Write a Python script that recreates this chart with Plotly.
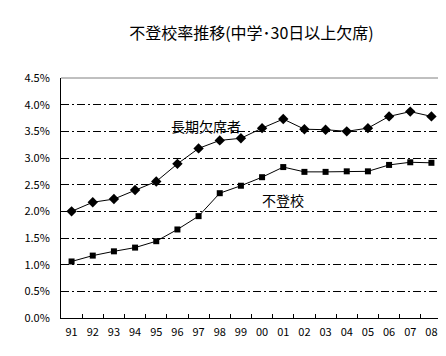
import plotly.graph_objects as go

years = ["91", "92", "93", "94", "95", "96", "97", "98", "99", "00",
         "01", "02", "03", "04", "05", "06", "07", "08"]
long_absence = [2.00, 2.17, 2.23, 2.40, 2.56, 2.89, 3.18, 3.33, 3.37, 3.56,
                3.73, 3.54, 3.53, 3.50, 3.56, 3.78, 3.87, 3.78]
futoko = [1.06, 1.17, 1.25, 1.32, 1.44, 1.66, 1.91, 2.34, 2.48, 2.64,
          2.83, 2.74, 2.74, 2.75, 2.75, 2.87, 2.92, 2.91]
y_ticks = [0.0, 0.5, 1.0, 1.5, 2.0, 2.5, 3.0, 3.5, 4.0, 4.5]
y_tick_text = [f"{v:.1f}%" for v in y_ticks]

font_family = "Noto Sans CJK JP, DejaVu Sans, sans-serif"

fig = go.Figure()
fig.add_trace(go.Scatter(
    x=years, y=long_absence, mode="lines+markers", name="長期欠席者",
    line=dict(color="black", width=1),
    marker=dict(symbol="diamond", size=8, color="black"),
))
fig.add_trace(go.Scatter(
    x=years, y=futoko, mode="lines+markers", name="不登校",
    line=dict(color="black", width=1),
    marker=dict(symbol="square", size=6, color="black"),
))

fig.add_annotation(x=4.6, y=3.60, xref="x", yref="y", text="長期欠席者",
                   showarrow=False, xanchor="left", yanchor="middle",
                   font=dict(size=14, color="black", family=font_family))
fig.add_annotation(x=8.9, y=2.21, xref="x", yref="y", text="不登校",
                   showarrow=False, xanchor="left", yanchor="middle",
                   font=dict(size=14, color="black", family=font_family))

# outer frame bottom line
fig.add_shape(type="line", xref="paper", yref="paper", x0=-0.2, x1=1.2,
              y0=-0.185, y1=-0.185, line=dict(color="#c0c0c0", width=2))

fig.update_layout(
    width=446, height=356,
    margin=dict(l=53, r=12, t=70, b=46),
    paper_bgcolor="white", plot_bgcolor="white",
    showlegend=False,
    title=dict(text="不登校率推移(中学･30日以上欠席)", x=0.5, xref="paper",
               xanchor="center", y=0.93, yanchor="middle",
               font=dict(size=16, color="black", family=font_family)),
    font=dict(family=font_family, color="black", size=11),
    xaxis=dict(
        type="category", showgrid=False, showline=True, linecolor="black",
        linewidth=1, mirror=False, ticks="inside", tickson="boundaries",
        ticklen=4, tickcolor="black", range=[-0.5, 17.5], tickangle=0,
        tickfont=dict(size=11, color="black"), ticklabelstandoff=4,
    ),
    yaxis=dict(
        range=[0, 4.5], tickvals=y_ticks, ticktext=y_tick_text,
        showgrid=True, gridcolor="black", gridwidth=1,
        griddash="8px,3px,2px,3px", showline=True, linecolor="black",
        linewidth=1, ticks="outside", ticklen=8, tickcolor="rgba(0,0,0,0)",
        zeroline=False, tickfont=dict(size=11, color="black"),
    ),
)

# gray top and right border of plot area
fig.add_shape(type="line", xref="paper", yref="paper", x0=0, x1=1, y0=1, y1=1,
              line=dict(color="#808080", width=1))
fig.add_shape(type="line", xref="paper", yref="paper", x0=1, x1=1, y0=0, y1=1,
              line=dict(color="#808080", width=1))

fig.write_html("out.html")
